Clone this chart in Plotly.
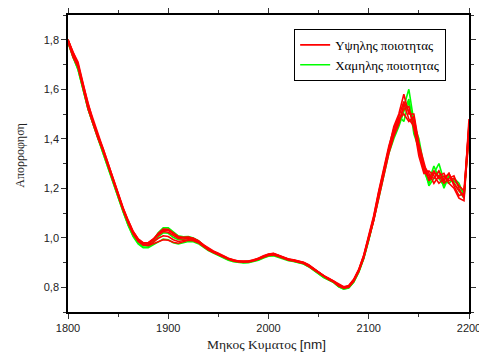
import plotly.graph_objects as go

# Wavelength grid (nm)
wavelength = list(range(1800, 2201, 5))

# Absorbance spectra – high quality samples
high_1 = [1.80,1.75,1.70,1.62,1.54,1.47,1.41,1.36,1.30,1.24,1.18,1.12,1.07,1.025,0.995,
          0.98,0.98,0.995,1.015,1.03,1.03,1.015,1.002,1.0,1.002,0.998,0.988,0.972,0.958,0.947,0.937,
          0.927,0.917,0.911,0.906,0.906,0.906,0.911,0.917,0.927,0.934,0.937,0.93,0.92,0.914,0.911,0.906,
          0.901,0.891,0.877,0.862,0.847,0.837,0.826,0.812,0.802,0.807,0.832,0.872,0.93,1.01,1.09,1.19,
          1.28,1.37,1.44,1.49,1.55,1.51,1.47,1.35,1.28,1.25,1.24,1.27,1.23,1.26,1.22,1.19,1.17,1.46]
high_2 = [1.80,1.74,1.69,1.61,1.53,1.47,1.41,1.35,1.29,1.23,1.17,1.115,1.065,1.02,0.99,
          0.975,0.975,0.99,1.01,1.025,1.022,1.008,0.997,0.995,0.998,0.994,0.984,0.968,0.954,0.943,0.933,
          0.923,0.914,0.908,0.904,0.903,0.904,0.908,0.914,0.924,0.931,0.934,0.928,0.918,0.912,0.909,0.904,
          0.899,0.888,0.874,0.86,0.845,0.834,0.824,0.808,0.798,0.803,0.828,0.868,0.925,1.0,1.08,1.18,
          1.27,1.36,1.43,1.47,1.52,1.53,1.44,1.36,1.27,1.24,1.27,1.24,1.25,1.23,1.24,1.21,1.19,1.45]
high_3 = [1.79,1.73,1.69,1.60,1.52,1.46,1.40,1.35,1.29,1.23,1.17,1.11,1.06,1.015,0.985,
          0.97,0.97,0.982,0.998,1.008,1.005,0.992,0.985,0.988,0.992,0.99,0.981,0.966,0.952,0.941,0.932,
          0.922,0.913,0.907,0.903,0.902,0.903,0.907,0.913,0.922,0.929,0.931,0.925,0.916,0.91,0.907,0.902,
          0.897,0.886,0.872,0.857,0.843,0.832,0.822,0.806,0.797,0.801,0.825,0.865,0.92,0.995,1.07,1.17,
          1.26,1.35,1.42,1.48,1.50,1.47,1.49,1.37,1.29,1.26,1.22,1.25,1.26,1.22,1.20,1.16,1.15,1.44]
high_4 = [1.80,1.75,1.71,1.62,1.54,1.48,1.42,1.36,1.30,1.24,1.18,1.12,1.07,1.025,0.995,
          0.978,0.979,0.993,1.018,1.035,1.034,1.018,1.005,1.002,1.003,0.997,0.987,0.971,0.956,0.945,0.935,
          0.925,0.916,0.91,0.905,0.905,0.905,0.909,0.916,0.926,0.933,0.936,0.929,0.919,0.913,0.91,0.905,
          0.9,0.89,0.876,0.861,0.846,0.836,0.825,0.81,0.8,0.805,0.83,0.87,0.928,1.005,1.085,1.185,
          1.275,1.365,1.45,1.50,1.58,1.50,1.50,1.38,1.30,1.23,1.26,1.25,1.22,1.24,1.25,1.20,1.16,1.48]
high_5 = [1.80,1.74,1.70,1.61,1.53,1.47,1.41,1.35,1.29,1.23,1.175,1.115,1.062,1.018,0.988,
          0.972,0.968,0.975,0.985,0.992,0.99,0.982,0.978,0.985,0.99,0.988,0.98,0.965,0.95,0.94,0.931,
          0.921,0.912,0.906,0.902,0.901,0.902,0.906,0.912,0.921,0.928,0.93,0.924,0.915,0.909,0.906,0.901,
          0.896,0.885,0.871,0.856,0.842,0.831,0.821,0.805,0.796,0.8,0.824,0.864,0.918,0.99,1.07,1.16,
          1.25,1.34,1.41,1.46,1.54,1.48,1.45,1.33,1.26,1.27,1.25,1.22,1.24,1.26,1.21,1.17,1.18,1.40]

# Absorbance spectra – low quality samples
low_1 = [1.79,1.73,1.68,1.60,1.52,1.46,1.40,1.34,1.28,1.22,1.16,1.105,1.05,1.005,0.975,
         0.96,0.96,0.972,0.985,0.995,0.992,0.98,0.975,0.98,0.985,0.984,0.976,0.962,0.948,0.938,0.928,
         0.918,0.909,0.903,0.899,0.898,0.899,0.903,0.909,0.918,0.925,0.927,0.921,0.912,0.907,0.904,0.899,
         0.894,0.883,0.869,0.854,0.839,0.829,0.819,0.802,0.792,0.797,0.82,0.86,0.915,0.99,1.07,1.16,
         1.25,1.34,1.40,1.45,1.51,1.56,1.42,1.36,1.28,1.23,1.29,1.24,1.21,1.25,1.23,1.21,1.18,1.42]
low_2 = [1.80,1.74,1.69,1.61,1.53,1.47,1.41,1.35,1.29,1.23,1.17,1.11,1.06,1.015,0.985,
         0.97,0.973,0.99,1.02,1.04,1.04,1.022,1.008,1.004,1.005,0.999,0.988,0.97,0.955,0.944,0.934,
         0.924,0.915,0.909,0.904,0.903,0.904,0.908,0.915,0.925,0.932,0.935,0.928,0.918,0.912,0.909,0.904,
         0.899,0.888,0.874,0.859,0.844,0.833,0.822,0.806,0.795,0.8,0.826,0.866,0.922,0.998,1.078,1.175,
         1.265,1.355,1.43,1.46,1.53,1.60,1.47,1.37,1.27,1.22,1.26,1.30,1.23,1.22,1.24,1.22,1.17,1.45]
low_3 = [1.79,1.73,1.68,1.60,1.52,1.46,1.40,1.34,1.28,1.22,1.165,1.105,1.052,1.008,0.978,
         0.962,0.963,0.98,1.005,1.02,1.018,1.002,0.992,0.993,0.996,0.992,0.982,0.966,0.951,0.94,0.93,
         0.92,0.911,0.905,0.901,0.9,0.901,0.905,0.911,0.92,0.927,0.929,0.923,0.914,0.908,0.905,0.9,
         0.895,0.884,0.87,0.855,0.84,0.83,0.82,0.803,0.793,0.798,0.822,0.862,0.918,0.993,1.073,1.167,
         1.26,1.35,1.41,1.49,1.47,1.55,1.46,1.40,1.29,1.21,1.24,1.27,1.20,1.25,1.22,1.19,1.16,1.43]

high_series = [high_1, high_2, high_3, high_4, high_5]
low_series = [low_1, low_2, low_3]

high_name = "Υψηλης ποιοτητας"
low_name = "Χαμηλης ποιοτητας"
x_title = "Μηκος Κυματος <span style='font-family:Liberation Sans, Arial, sans-serif'>[nm]</span>"
y_title = "Απορροφηση"

RED = "#ff0000"
GREEN = "#00ff00"
SERIF = "Liberation Serif, Times New Roman, serif"
SANS = "Liberation Sans, Arial, sans-serif"

fig = go.Figure()

for i, ys in enumerate(low_series):
    fig.add_trace(go.Scatter(
        x=wavelength, y=ys, mode="lines", name=low_name,
        line=dict(color=GREEN, width=1.6),
        showlegend=(i == 0), legendgroup="low", legendrank=2,
    ))

for i, ys in enumerate(high_series):
    fig.add_trace(go.Scatter(
        x=wavelength, y=ys, mode="lines", name=high_name,
        line=dict(color=RED, width=1.6),
        showlegend=(i == 0), legendgroup="high", legendrank=1,
    ))

axis_common = dict(
    showgrid=False, zeroline=False, automargin=False, ticklabeloverflow="allow",
    showline=True, linecolor="black", linewidth=1.5,
    mirror="ticks", ticks="outside", ticklen=5, tickwidth=1.2, tickcolor="#333",
    tickfont=dict(family=SANS, size=11, color="#222"),
)

fig.update_layout(
    width=479, height=356,
    margin=dict(l=68, r=10, t=15, b=44),
    paper_bgcolor="white", plot_bgcolor="white",
    separators=", ",
    showlegend=True,
    legend=dict(
        x=0.564, y=0.953, xanchor="left", yanchor="top",
        bgcolor="white", bordercolor="black", borderwidth=1,
        font=dict(family=SERIF, size=13, color="black"),
        tracegroupgap=0, itemwidth=30,
    ),
    xaxis=dict(
        range=[1800, 2200], tick0=1800, dtick=100,
        minor=dict(dtick=50, ticklen=3, ticks="outside", tickcolor="#333"),
        **axis_common,
    ),
    yaxis=dict(
        range=[0.7, 1.9], tick0=0.8, dtick=0.2, tickformat=".1f",
        minor=dict(dtick=0.1, ticklen=3, ticks="outside", tickcolor="#333"),
        **axis_common,
    ),
    annotations=[
        dict(text=x_title, xref="paper", yref="paper", x=0.495, y=-0.111,
             xanchor="center", yanchor="middle", showarrow=False,
             font=dict(family=SERIF, size=13.5, color="#222")),
        dict(text=y_title, xref="paper", yref="paper", x=-0.12, y=0.529,
             xanchor="center", yanchor="middle", showarrow=False, textangle=-90,
             font=dict(family=SERIF, size=12, color="#222")),
    ],
)

fig.write_html("out.html")
